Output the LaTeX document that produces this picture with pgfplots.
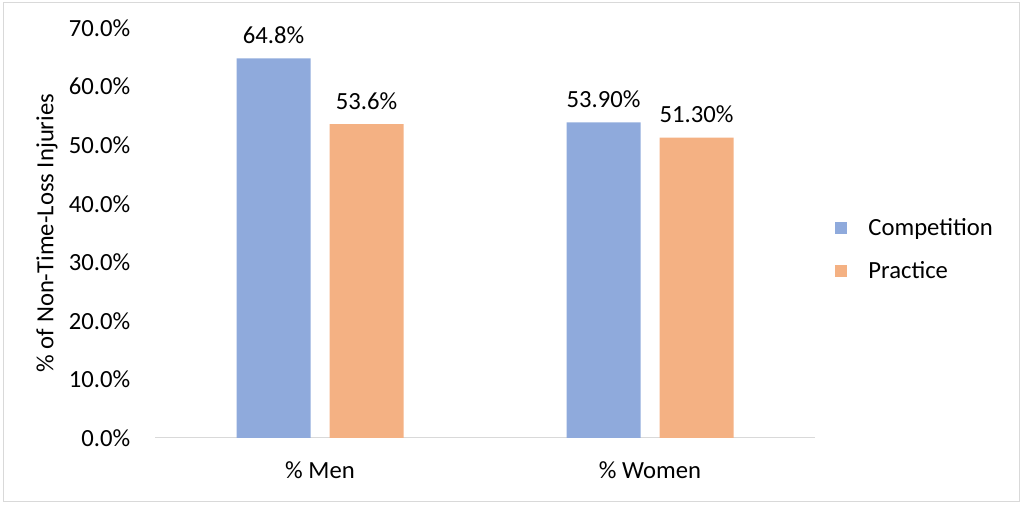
\documentclass[border=0pt]{standalone}
\usepackage{pgfplots}
\pgfplotsset{compat=1.18}
\usepackage{fontspec}
\setmainfont{Carlito}
\definecolor{compblue}{HTML}{8FAADC}
\definecolor{pracorange}{HTML}{F4B183}
\definecolor{framegray}{HTML}{D9D9D9}
\definecolor{axgray}{HTML}{D9D9D9}
\newcommand{\cf}{\fontsize{18.5}{22}\selectfont}
\begin{document}
\begin{tikzpicture}
\useasboundingbox (0pt,0pt) rectangle (768pt,378.75pt);
\draw[framegray,line width=0.75pt] (2.25pt,2.25pt) rectangle (764.25pt,376.5pt);
\begin{axis}[
  at={(116.25pt,50.25pt)}, anchor=south west,
  scale only axis,
  width=495pt, height=307.5pt,
  ybar=14.25pt, bar width=55.5pt,
  xmin=-0.5, xmax=1.5, ymin=0, ymax=70,
  xtick={0,1}, xticklabels={\% Men,\% Women},
  ytick={0,10,...,70},
  yticklabels={0.0\%,10.0\%,20.0\%,30.0\%,40.0\%,50.0\%,60.0\%,70.0\%},
  axis lines*=left,
  x axis line style={axgray,line width=0.75pt,-},
  y axis line style={draw=none},
  major tick length=0pt,
  tick style={draw=none},
  ticklabel style={font=\cf},
  xticklabel style={yshift=-14pt},
  yticklabel style={xshift=-15pt},
  ylabel={\% of Non-Time-Loss Injuries},
  every axis y label/.style={at={([xshift=-81pt]axis description cs:0,0.5)},rotate=90,anchor=center,font=\cf},
  nodes near coords,
  point meta=explicit symbolic,
  every node near coord/.append style={font=\cf, yshift=7.5pt},
  legend style={at={(1.03,0.46)}, anchor=west, draw=none, fill=none,
    font=\cf, row sep=13.5pt, column sep=14pt, inner sep=0pt},
  legend cell align=left,
  legend image code/.code={\fill[#1] (0pt,-4.5pt) rectangle (9pt,4.5pt);},
  clip=false,
]
\addplot[draw=none, fill=compblue] coordinates {(0,64.8) [64.8\%] (1,53.9) [53.90\%]};
\addplot[draw=none, fill=pracorange] coordinates {(0,53.6) [53.6\%] (1,51.3) [51.30\%]};
\legend{Competition,Practice}
\end{axis}
\end{tikzpicture}
\end{document}
